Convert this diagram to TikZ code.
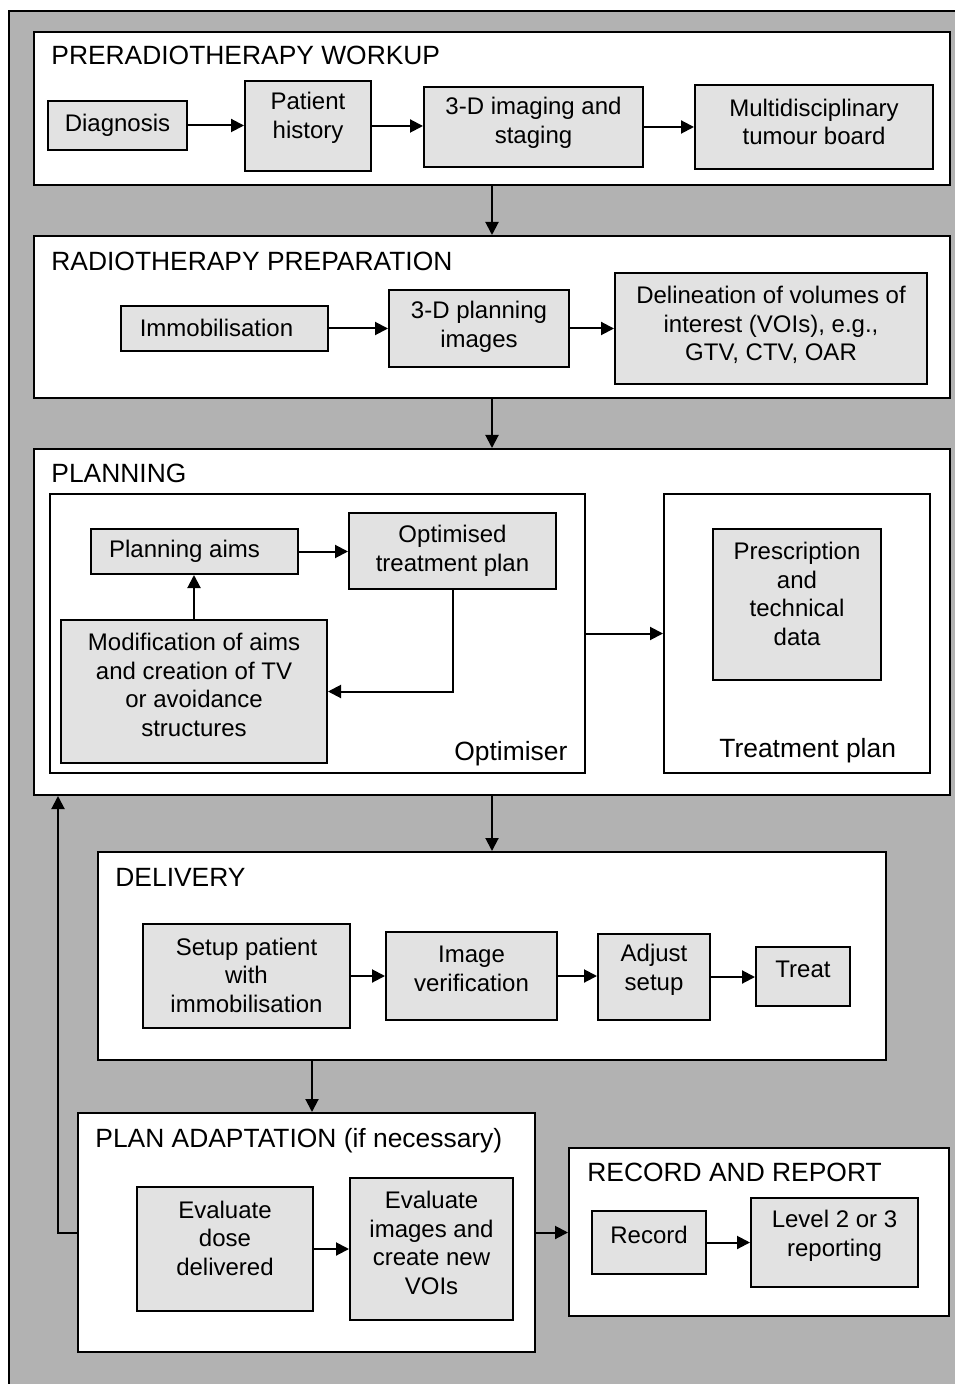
\documentclass[tikz,border=0pt]{standalone}
\usepackage{fontspec}
\setmainfont{Liberation Sans}
\usetikzlibrary{arrows.meta,calc}
\definecolor{bggray}{RGB}{178,178,178}
\definecolor{boxgray}{RGB}{226,226,226}
\newcommand\pn[5]{%
  \node[panel, minimum width={(#4-#2)*0.5pt}, minimum height={(#5-#3)*0.5pt}] (#1) at ({(#2+#4)/2},{(#3+#5)/2}) {};}
% name x1 y1 x2 y2 xshift(px) ty text
\newcommand\bx[8]{%
  \node[box, minimum width={(#4-#2)*0.5pt}, minimum height={(#5-#3)*0.5pt}] (#1) at ({(#2+#4)/2},{(#3+#5)/2}) {};
  \node[txt] (#1-t) at ({(#2+#4)/2+#6},#7) {#8};}
\begin{document}
\begin{tikzpicture}[x=0.5pt,y=-0.5pt,
  panel/.style={draw=black, fill=white, line width=1pt, inner sep=0pt},
  box/.style={draw=black, fill=boxgray, line width=1pt, inner sep=0pt},
  txt/.style={align=center, font=\fontsize{12}{14.25}\selectfont, inner sep=0pt},
  ttl/.style={anchor=base west, font=\fontsize{13.2}{16}\selectfont, inner sep=0pt},
  arr/.style={-{Triangle[length=6.5pt,width=6.5pt]}, line width=1pt}]
\useasboundingbox (0,0) rectangle (955,1384);
\fill[white] (0,0) rectangle (955,1384);
\fill[bggray] (9,11) rectangle (955,1384);
\draw[line width=1pt] (9,1384) -- (9,11) -- (955,11);

% PRERADIOTHERAPY WORKUP
\pn{w1}{34}{32}{950}{185}
\node[ttl] (w1-t) at (51,65) {PRERADIOTHERAPY WORKUP};
\bx{diag}{48}{101}{187}{150}{0}{125}{Diagnosis}
\bx{hist}{245}{81}{371}{171}{0}{118}{Patient\\history}
\bx{img}{424}{87}{643}{167}{0}{123}{3-D imaging and\\staging}
\bx{mdt}{695}{85}{933}{169}{0}{122}{Multidisciplinary\\tumour board}

% RADIOTHERAPY PREPARATION
\pn{w2}{34}{236}{950}{398}
\node[ttl] (w2-t) at (51,271) {RADIOTHERAPY PREPARATION};
\bx{imm}{121}{306}{328}{351}{-8}{328}{Immobilisation}
\bx{p3d}{389}{290}{569}{367}{0}{327}{3-D planning\\images}
\bx{del}{615}{273}{927}{384}{0}{325}{Delineation of volumes of\\interest (VOIs), e.g.,\\GTV, CTV, OAR}

% PLANNING
\pn{w3}{34}{449}{950}{795}
\node[ttl] (w3-t) at (51,483) {PLANNING};
\pn{opz}{50}{494}{585}{773}
\pn{tpl}{664}{494}{930}{773}
\node[ttl] (opz-t) at (454,760) {Optimiser};
\node[ttl] (tpl-t) at (719,757) {Treatment plan};
\bx{aims}{91}{529}{298}{574}{-10}{551}{Planning aims}
\bx{opt}{349}{513}{556}{589}{0}{551}{Optimised\\treatment plan}
\bx{mod}{61}{620}{327}{763}{0}{685}{Modification of aims\\and creation of TV\\or avoidance\\structures}
\bx{pres}{713}{529}{881}{680}{0}{594}{Prescription\\and\\technical\\data}

% DELIVERY
\pn{w4}{98}{852}{886}{1060}
\node[ttl] (w4-t) at (115,886) {DELIVERY};
\bx{setup}{143}{924}{350}{1028}{0}{975}{Setup patient\\with\\immobilisation}
\bx{iver}{386}{932}{557}{1020}{0}{969}{Image\\verification}
\bx{adj}{598}{934}{710}{1020}{0}{970}{Adjust\\setup}
\bx{treat}{756}{947}{850}{1006}{0}{969}{Treat}

% PLAN ADAPTATION
\pn{w5}{78}{1113}{535}{1352}
\node[ttl] (w5-t) at (95,1147) {PLAN ADAPTATION (if necessary)};
\bx{evd}{137}{1187}{313}{1311}{0}{1238}{Evaluate\\dose\\delivered}
\bx{evi}{350}{1178}{513}{1320}{0}{1243}{Evaluate\\images and\\create new\\VOIs}

% RECORD AND REPORT
\pn{w6}{569}{1148}{949}{1316}
\node[ttl] (w6-t) at (587,1181) {RECORD AND REPORT};
\bx{rec}{592}{1211}{706}{1274}{0}{1235}{Record}
\bx{lvl}{751}{1198}{918}{1287}{0}{1236}{Level 2 or 3\\reporting}

% connectors
\draw[arr] (diag.east) -- (diag.east -| hist.west);
\draw[arr] (hist.east) -- (hist.east -| img.west);
\draw[arr] (img.east) -- (img.east -| mdt.west);
\draw[arr] (w1.south) -- (w2.north);
\draw[arr] (imm.east) -- (imm.east -| p3d.west);
\draw[arr] (p3d.east) -- (p3d.east -| del.west);
\draw[arr] (w2.south) -- (w3.north);
\draw[arr] (aims.east) -- (aims.east -| opt.west);
\draw[arr] (mod.north) -- (mod.north |- aims.south);
\draw[arr] (opt.south) -- (opt.south |- mod.east) -- (mod.east);
\draw[arr] (opz.east) -- (tpl.west);
\draw[arr] (w3.south) -- (w3.south |- w4.north);
\draw[arr] (setup.east) -- (setup.east -| iver.west);
\draw[arr] (iver.east) -- (iver.east -| adj.west);
\draw[arr] (adj.east) -- (adj.east -| treat.west);
\coordinate (dp) at (312,1060);
\draw[arr] (dp) -- (dp |- w5.north);
\draw[arr] (evd.east) -- (evd.east -| evi.west);
\draw[arr] (w5.east) -- (w5.east -| w6.west);
\draw[arr] (rec.east) -- (rec.east -| lvl.west);
\coordinate (fb) at (58,1000);
\draw[arr] (w5.west) -- (w5.west -| fb) -- (fb |- w3.south);
\end{tikzpicture}
\end{document}
